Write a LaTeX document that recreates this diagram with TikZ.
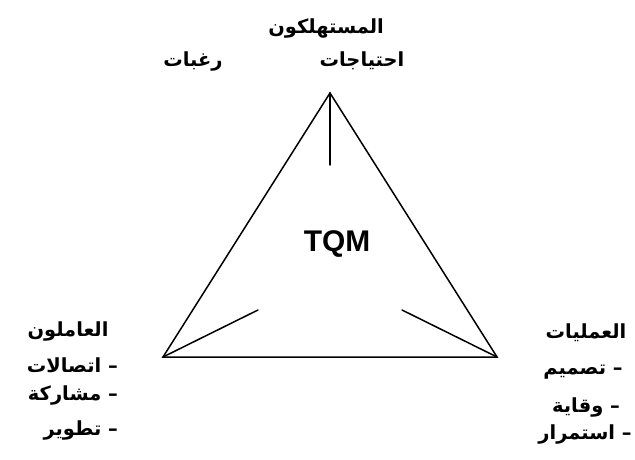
\documentclass[tikz,border=0pt]{standalone}
\usepackage{fontspec}
\setmainfont{Liberation Sans}
\newfontfamily\arabicfont[Script=Arabic]{DejaVu Sans}
\TeXXeTstate=1
\begin{document}
\begin{tikzpicture}[x=1bp,y=-1bp,
  edge/.style={line width=1.5bp,line cap=round,line join=miter},
  ar/.style={inner sep=0pt,font=\arabicfont\bfseries\fontsize{19.5}{22}\selectfont},
  tqm/.style={inner sep=0pt,font=\bfseries\fontsize{30}{36}\selectfont}]
\useasboundingbox (0,0) rectangle (635,460);
\fill[white] (0,0) rectangle (635,460);
\coordinate (A) at (330,93);
\coordinate (B) at (163,357);
\coordinate (C) at (497,357);
\coordinate (At) at (330,165);
\coordinate (Bt) at (258,310);
\coordinate (Ct) at (402,310);
\draw[edge] (A) -- (B) -- (C) -- cycle;
\draw[edge] (A) -- (At);
\draw[edge] (B) -- (Bt);
\draw[edge] (C) -- (Ct);
\node[tqm] (tqm) at (337,244) {TQM};
\node[ar] (cons) at (326,29) {\beginR المستهلكون\endR};
\node[ar] (wants) at (193,61) {\beginR رغبات\endR};
\node[ar] (needs) at (362,61) {\beginR احتياجات\endR};
\node[ar] (work) at (68,331) {\beginR العاملون\endR};
\node[ar,anchor=east] (w1) at (118,365) {\beginR – اتصالات\endR};
\node[ar,anchor=east] (w2) at (118,395) {\beginR – مشاركة\endR};
\node[ar,anchor=east] (w3) at (118,430) {\beginR – تطوير\endR};
\node[ar] (proc) at (586,333) {\beginR العمليات\endR};
\node[ar] (p1) at (583,372) {\beginR – تصميم\endR};
\node[ar] (p2) at (586,407) {\beginR – وقاية\endR};
\node[ar] (p3) at (585,434) {\beginR – استمرار\endR};
\end{tikzpicture}
\end{document}
